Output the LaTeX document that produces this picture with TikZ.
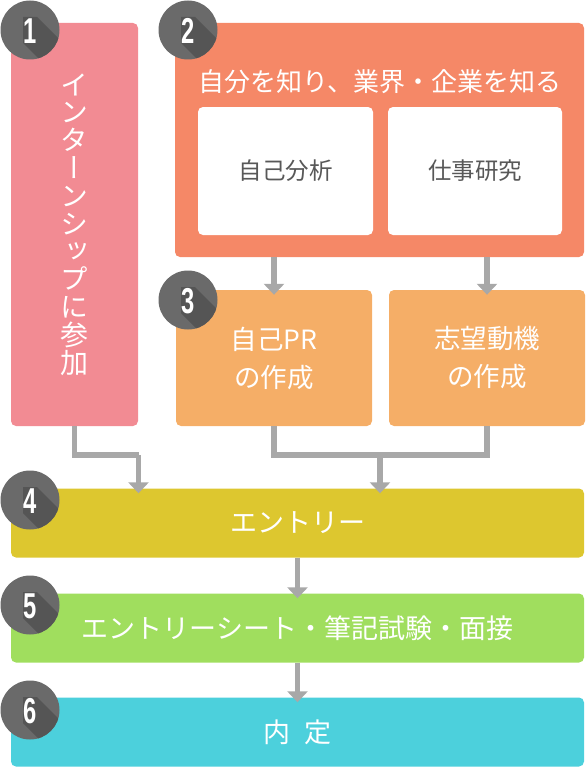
\documentclass[tikz,border=0pt]{standalone}
\usepackage{fontspec}
\usepackage{graphicx}
\newfontfamily\jpfont{Noto Sans CJK JP}
\newfontfamily\jpvert[RawFeature=+vert]{Noto Sans CJK JP}
\newfontfamily\numfont{Liberation Sans}
\usetikzlibrary{arrows.meta, positioning, calc}

\definecolor{internc}{HTML}{F28B93}
\definecolor{knowc}{HTML}{F58867}
\definecolor{prc}{HTML}{F5AE67}
\definecolor{entryc}{HTML}{DDC72F}
\definecolor{examc}{HTML}{A0DE5E}
\definecolor{naiteic}{HTML}{4CD0DC}
\definecolor{linkgray}{HTML}{A8A8A8}
\definecolor{badgec}{HTML}{6A6A6A}
\definecolor{badgedark}{HTML}{555555}
\definecolor{textgray}{HTML}{585858}

\begin{document}
\begin{tikzpicture}[x=1pt, y=-1pt,
  box/.style={rectangle, rounded corners=5pt, inner sep=0pt, text=white,
              align=center},
  bar/.style={box, minimum width=573pt, minimum height=69pt,
              font={\jpfont\fontsize{27}{30}\selectfont}},
  card/.style={box, fill=white, minimum width=175pt, minimum height=128pt,
               text=textgray, font={\jpfont\fontsize{23.5}{26}\selectfont}},
  make/.style={box, fill=prc, minimum width=196pt, minimum height=136pt,
               font={\jpfont\fontsize{26.5}{38}\selectfont}},
  line/.style={draw=linkgray, line width=5.5pt},
  link/.style={line, -{Triangle[length=11pt,width=20pt]}, shorten >=-5pt},
  num/.style={inner sep=0pt, text=white,
              font={\numfont\bfseries\fontsize{36}{36}\selectfont}}
]
\useasboundingbox (0,0) rectangle (586,768);

% ----- 1: internship -----
\node[box, fill=internc, minimum width=127pt, minimum height=403pt,
      font={\jpvert\fontsize{28}{27.8}\selectfont}] (intern) at (74.5,224.5)
     {イ\\ン\\タ\\ー\\ン\\シ\\ッ\\プ\\に\\参\\加};

% ----- 2: know yourself and the industry -----
\node[box, fill=knowc, minimum width=409pt, minimum height=234pt] (know) at (379.5,140) {};
\node[text=white, font={\jpfont\fontsize{26}{30}\selectfont}] (title) at (380,82)
     {自分を知り、業界・企業を知る};
\node[card] (jiko) at (285.5,171) {自己分析};
\node[card, minimum width=174pt] (shigoto) at (475,171) {仕事研究};

% ----- 3: documents -----
\node[make] (pr) at (274,358) {自己PR\\の作成};
\node[make] (motive) at (487,358) {志望動機\\の作成};

% ----- 4 to 6: bars -----
\node[bar, fill=entryc] (entry) at (297.5,523) {エントリー};
\node[bar, fill=examc] (exam) at (297.5,628) {エントリーシート・筆記試験・面接};
\node[bar, fill=naiteic] (naitei) at (297.5,732) {内\hspace{14pt}定};

% ----- connectors -----
\draw[link] (know.south -| pr.north) -- (pr.north);
\draw[link] (know.south -| motive.north) -- (motive.north);
\coordinate (lturn) at (138.5,455);
\coordinate (rjoin) at (380,455);
\draw[line] (intern.south) |- (lturn);
\draw[link] (lturn) -- (lturn |- entry.north);
\draw[line] (pr.south) |- (rjoin) -| (motive.south);
\draw[link] (rjoin) -- (rjoin |- entry.north);
\draw[link] (entry.south) -- (exam.north);
\draw[link] (exam.south) -- (naitei.north);

% ----- step badges with long shadow -----
\foreach \n/\x/\y in {1/30/30, 2/188/30, 3/188/300, 4/30/500, 5/30/605, 6/30/710}{
  \begin{scope}[shift={(\x,\y)}]
    \fill[badgec] (0,0) circle (29.5pt);
    \clip (0,0) circle (29.5pt);
    \fill[badgedark] (-7,-13) -- (7,-13) -- (47,27) -- (47,53)
                     -- (33,53) -- (-7,13) -- cycle;
  \end{scope}
  \node[num] (badge\n) at (\x,\y+1) {\scalebox{0.66}[1]{\n}};
}
\end{tikzpicture}
\end{document}
